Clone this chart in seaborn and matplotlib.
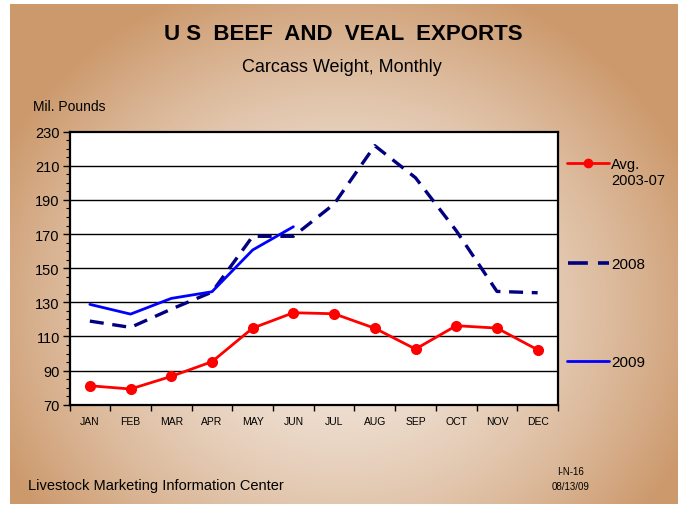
import numpy as np
import pandas as pd
import matplotlib
matplotlib.use("Agg")
import matplotlib.pyplot as plt
import seaborn as sns
from matplotlib.lines import Line2D
from matplotlib.ticker import MultipleLocator

months = ["JAN", "FEB", "MAR", "APR", "MAY", "JUN",
          "JUL", "AUG", "SEP", "OCT", "NOV", "DEC"]
avg_0307 = [81.1, 79.2, 86.6, 95.2, 114.9, 123.9, 123.3, 114.8, 102.6, 116.3, 114.9, 102.2]
exp_2008 = [119.0, 115.3, 126.0, 136.0, 168.7, 168.7, 187.6, 221.8, 203.0, 172.0, 136.4, 135.6]
exp_2009 = [128.8, 123.1, 132.3, 136.2, 160.7, 174.3]

W, H = 678, 506
sns.set_theme(style="white")
plt.rcParams["font.family"] = ["Liberation Sans Narrow", "Liberation Sans", "DejaVu Sans"]
plt.rcParams["text.color"] = "black"
plt.rcParams["xtick.labelcolor"] = "black"
plt.rcParams["ytick.labelcolor"] = "black"

fig = plt.figure(figsize=(W / 100, H / 100), dpi=100)
fig.patch.set_facecolor("white")

# tan background with a lighter centre
bg = fig.add_axes([10 / W, 1 / H, 668 / W, 500 / H], zorder=-5)
yy, xx = np.mgrid[0:250, 0:334]
r = np.sqrt(((xx - 165) / 190.0) ** 2 + ((yy - 150) / 170.0) ** 2)
t = np.clip(r, 0, 1) ** 1.6
c0 = np.array([243, 233, 224]) / 255
c1 = np.array([204, 153, 108]) / 255
img = c0 + (c1 - c0) * t[..., None]
bg.imshow(img, aspect="auto", interpolation="bilinear")
bg.axis("off")

ax = fig.add_axes([69.5 / W, (H - 405.7) / H, 488.5 / W, 273 / H])
ax.set_facecolor("white")

df = pd.DataFrame({"m": np.arange(12), "avg": avg_0307, "y2008": exp_2008,
                   "y2009": exp_2009 + [np.nan] * (12 - len(exp_2009))})

sns.lineplot(data=df, x="m", y="y2008", ax=ax, color="#000080", lw=2.4, zorder=3)
ax.lines[-1].set_dashes([4.2, 2.6])
sns.lineplot(data=df, x="m", y="y2009", ax=ax, color="#0000ff", lw=2.0, zorder=4)
sns.lineplot(data=df, x="m", y="avg", ax=ax, color="#ff0000", lw=2.0,
             marker="o", markersize=8, markeredgewidth=0, zorder=5)

ax.set_xlim(-0.5, 11.5)
ax.set_ylim(70, 230)
ax.set_yticks(range(70, 231, 20))
ax.yaxis.set_minor_locator(MultipleLocator(5))
for yv in range(90, 230, 20):
    ax.axhline(yv, color="black", lw=1.0, zorder=1)
ax.set_xticks(np.arange(12))
ax.set_xticklabels(months, fontsize=7.5)
ax.set_xticks(np.arange(-0.5, 12, 1), minor=True)
ax.tick_params(axis="x", which="major", length=0, pad=8)
ax.tick_params(axis="x", which="minor", length=4, width=1, color="black", direction="out", bottom=True)
ax.tick_params(axis="y", which="major", length=5, width=1, color="black", direction="out",
               left=True, labelsize=10.5, pad=2)
ax.tick_params(axis="y", which="minor", length=3, width=0.8, color="black", direction="out", left=True)
ax.set_xlabel("")
ax.set_ylabel("")
for s in ax.spines.values():
    s.set_color("black")
    s.set_linewidth(1.6)

# titles and notes
fig.text(343 / W, 1 - 34 / H, "U S  BEEF  AND  VEAL  EXPORTS", ha="center", va="center",
         fontsize=16, fontweight="bold")
fig.text(342 / W, 1 - 67 / H, "Carcass Weight, Monthly", ha="center", va="center", fontsize=13)
fig.text(33 / W, 1 - 107 / H, "Mil. Pounds", ha="left", va="center", fontsize=10)
fig.text(28 / W, 1 - 486 / H, "Livestock Marketing Information Center", ha="left", va="center",
         fontsize=10.5)
fig.text(571 / W, 1 - 472 / H, "I-N-16", ha="center", va="center", fontsize=7)
fig.text(571 / W, 1 - 487 / H, "08/13/09", ha="center", va="center", fontsize=7)

# legend on the right
fig.add_artist(Line2D([567 / W, 609 / W], [1 - 164 / H, 1 - 164 / H], transform=fig.transFigure,
                      color="#ff0000", lw=2.0))
fig.add_artist(Line2D([588 / W], [1 - 164 / H], transform=fig.transFigure,
                      color="#ff0000", marker="o", markersize=7, markeredgewidth=0))
fig.add_artist(Line2D([568 / W, 609 / W], [1 - 264 / H, 1 - 264 / H], transform=fig.transFigure,
                      color="#000080", lw=2.6, dashes=[5.5, 2.8]))
fig.add_artist(Line2D([567 / W, 609 / W], [1 - 362 / H, 1 - 362 / H], transform=fig.transFigure,
                      color="#0000ff", lw=2.0))
fig.text(611 / W, 1 - 158 / H, "Avg.\n2003-07", ha="left", va="top", fontsize=10.5,
         linespacing=1.15)
fig.text(611 / W, 1 - 265 / H, "2008", ha="left", va="center", fontsize=11)
fig.text(611 / W, 1 - 363 / H, "2009", ha="left", va="center", fontsize=11)

fig.savefig("out.png", dpi=100)
